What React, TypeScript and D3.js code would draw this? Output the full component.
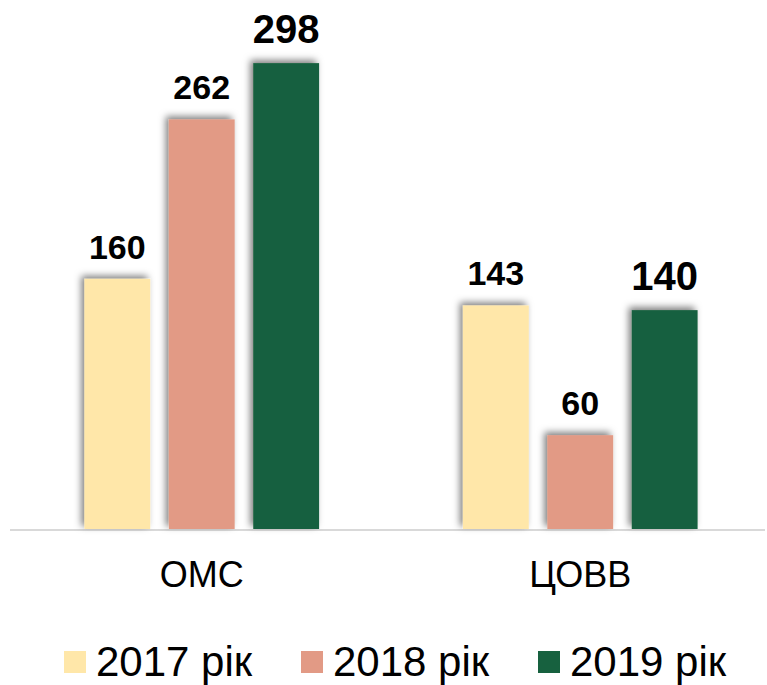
import React from "react";
import { scaleBand, scaleLinear } from "d3";

const categories = ["ОМС", "ЦОВВ"];
const seriesNames = ["2017 рік", "2018 рік", "2019 рік"];
const values2017 = [160, 143];
const values2018 = [262, 60];
const values2019 = [298, 140];
const seriesColors = ["#FFE7A9", "#E29A85", "#17613F"];

const W = 767;
const H = 685;
const FONT = "'Liberation Sans', Arial, sans-serif";

export default function App() {
  const series = [values2017, values2018, values2019];
  const baseline = 529;

  const x0 = scaleBand<string>()
    .domain(categories)
    .range([12.5, 769.5])
    .paddingInner(0.38)
    .paddingOuter(0.19);

  const x1 = scaleBand<string>()
    .domain(seriesNames)
    .range([0, x0.bandwidth()])
    .paddingInner(0.22)
    .paddingOuter(0);

  const y = scaleLinear().domain([0, 300]).range([baseline, 60]);

  return (
    <svg
      width={W}
      height={H}
      viewBox={`0 0 ${W} ${H}`}
      style={{ position: "absolute", left: 0, top: 0, background: "#fff" }}
    >
      <defs>
        <filter id="shadow" x="-30%" y="-30%" width="160%" height="160%">
          <feDropShadow dx={-3} dy={-3} stdDeviation={3.5} floodColor="#000" floodOpacity={0.5} />
        </filter>
      </defs>

      {/* axis line */}
      <line x1={10} x2={765} y1={baseline + 1} y2={baseline + 1} stroke="#d9d9d9" strokeWidth={2} />

      {categories.map((cat, ci) => (
        <g key={cat} transform={`translate(${x0(cat)},0)`}>
          {series.map((vals, si) => {
            const v = vals[ci];
            const bx = x1(seriesNames[si])!;
            return (
              <rect
                key={si}
                x={bx}
                y={y(v)}
                width={x1.bandwidth()}
                height={baseline - y(v)}
                fill={seriesColors[si]}
                filter="url(#shadow)"
              />
            );
          })}
          {series.map((vals, si) => {
            const v = vals[ci];
            const bx = x1(seriesNames[si])!;
            return (
              <text
                key={"l" + si}
                x={bx + x1.bandwidth() / 2}
                y={y(v) - 20}
                textAnchor="middle"
                fontFamily={FONT}
                fontWeight="bold"
                fontSize={si === 2 ? 40 : 34}
                fill="#000"
              >
                {v}
              </text>
            );
          })}
          <text
            x={x0.bandwidth() / 2}
            y={587}
            textAnchor="middle"
            fontFamily={FONT}
            fontSize={36}
            fill="#000"
          >
            {cat}
          </text>
        </g>
      ))}

      {/* legend */}
      {seriesNames.map((name, i) => (
        <g key={name} transform={`translate(${64 + i * 237},0)`}>
          <rect x={0} y={651} width={22} height={22} fill={seriesColors[i]} />
          <text x={32} y={676} fontFamily={FONT} fontSize={42} fill="#000">
            {name}
          </text>
        </g>
      ))}
    </svg>
  );
}
